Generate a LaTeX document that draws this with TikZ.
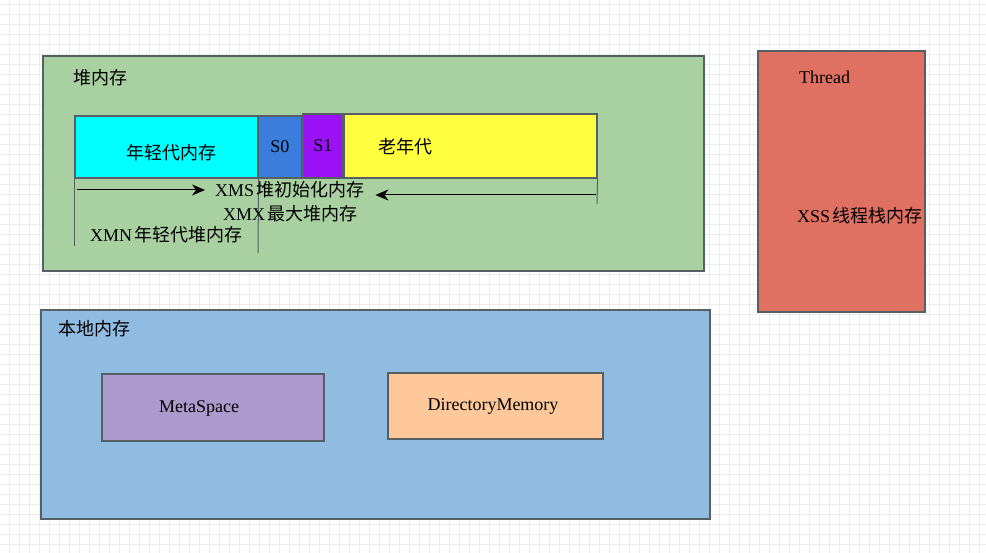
\documentclass[tikz,border=0pt]{standalone}
\usepackage{fontspec}
\setmainfont{Liberation Serif}
\newfontfamily\cjk{Noto Sans CJK SC}
\usetikzlibrary{arrows.meta}
\definecolor{gridgray}{RGB}{236,236,236}
\definecolor{boxline}{RGB}{85,95,100}
\definecolor{heapgreen}{RGB}{168,208,160}
\definecolor{eden}{RGB}{0,255,255}
\definecolor{szero}{RGB}{59,125,221}
\definecolor{sone}{RGB}{154,18,245}
\definecolor{oldgen}{RGB}{255,255,64}
\definecolor{threadred}{RGB}{224,112,98}
\definecolor{nativeblue}{RGB}{143,188,224}
\definecolor{metapurple}{RGB}{172,154,204}
\definecolor{directorange}{RGB}{255,200,154}
\tikzset{every node/.append style={font=\fontsize{18}{20}\selectfont}}
\tikzset{
  box/.style={draw=boxline, line width=1.6pt, anchor=north west, inner sep=0pt},
  tick/.style={draw=boxline, line width=1pt},
  label/.style={anchor=west, inner sep=0pt},
  sizearrow/.style={-{Stealth[length=13pt, width=11pt, inset=4pt]}, line width=1pt}
}

\begin{document}
\begin{tikzpicture}[x=1pt, y=-1pt]
    \useasboundingbox (0,0) rectangle (986,553);
    \fill[white] (0,0) rectangle (986,553);
    \foreach \gx in {9,19,...,979} \draw[gridgray, line width=0.9pt] (\gx,0) -- (\gx,553);
    \foreach \gy in {4,14,...,544} \draw[gridgray, line width=0.9pt] (0,\gy) -- (986,\gy);

    % heap
    \node[box, fill=heapgreen, minimum width=661pt, minimum height=215pt] (heap) at (42,55) {};
    \node[label] (heaptxt) at (73,78) {\cjk 堆内存};
    \node[box, fill=eden, minimum width=183pt, minimum height=62pt] (young) at (74,115) {};
    \node (youngtxt) at (171,153) {\cjk 年轻代内存};
    \node[box, fill=szero, minimum width=44pt, minimum height=62pt] (s0) at (257,115) {S0};
    \node[box, fill=sone, minimum width=40pt, minimum height=64pt] (s1) at (302,113) {S1};
    \node[box, fill=oldgen, minimum width=253pt, minimum height=64pt] (old) at (343,113) {};
    \node (oldtxt) at (405,147) {\cjk 老年代};

    \coordinate (ybot) at (74,246);
    \coordinate (mbot) at (258,253);
    \coordinate (obot) at (597,204);
    \draw[tick] (young.south west) -- (ybot);
    \draw[tick] (young.south east) -- (mbot);
    \draw[tick] (old.south east) -- (obot);

    \node[label] (xms) at (215,190) {XMS\hspace{2pt}{\cjk 堆初始化内存}};
    \node[label] (xmx) at (223,214) {XMX\hspace{2pt}{\cjk 最大堆内存}};
    \node[label] (xmn) at (90,235) {XMN\hspace{2pt}{\cjk 年轻代堆内存}};
    \coordinate (lstart) at (77,190);
    \coordinate (rstart) at (596,195);
    \draw[sizearrow] (lstart) -- ([xshift=-10pt]xms.west);
    \draw[sizearrow] (rstart) -- ([xshift=11pt, yshift=-5pt]xms.east);

    % thread
    \node[box, fill=threadred, minimum width=167pt, minimum height=261pt] (thread) at (757,50) {};
    \node[label] (threadtxt) at (799,77) {Thread};
    \node[label] (xss) at (797,216) {XSS\hspace{2pt}{\cjk 线程栈内存}};

    % native memory
    \node[box, fill=nativeblue, minimum width=669pt, minimum height=209pt] (native) at (40,309) {};
    \node[label] (nativetxt) at (58,329) {\cjk 本地内存};
    \node[box, fill=metapurple, minimum width=222pt, minimum height=67pt] (meta) at (101,373) {};
    \node (metatxt) at (199,408) {MetaSpace};
    \node[box, fill=directorange, minimum width=215pt, minimum height=66pt] (direct) at (387,372) {};
    \node (directtxt) at (493,406) {DirectoryMemory};
\end{tikzpicture}
\end{document}
